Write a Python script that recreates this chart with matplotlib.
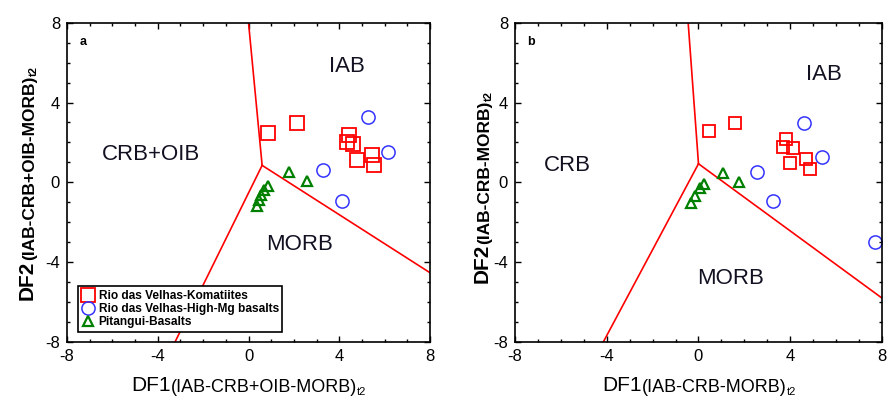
import numpy as np
import matplotlib
matplotlib.use("Agg")
import matplotlib.pyplot as plt
from matplotlib.ticker import MultipleLocator

plt.rcParams['font.family'] = ['Liberation Sans', 'DejaVu Sans']
plt.rcParams['axes.unicode_minus'] = False

# ---- data, panel a (DF1/DF2 IAB-CRB+OIB-MORB) ----
kom_a_x = [0.87, 2.12, 4.45, 4.35, 4.62, 4.77, 5.46, 5.53]
kom_a_y = [2.47, 2.97, 2.35, 2.0, 1.9, 1.14, 1.39, 0.85]
hmg_a_x = [5.28, 6.16, 3.3, 4.13]
hmg_a_y = [3.27, 1.5, 0.6, -0.95]
pit_a_x = [1.8, 2.56, 0.87, 0.7, 0.55, 0.45, 0.36]
pit_a_y = [0.5, 0.05, -0.2, -0.4, -0.65, -0.9, -1.2]
bound_a_x = [[0.0, 0.6], [0.6, -3.24], [0.6, 8.0]]
bound_a_y = [[8.0, 0.85], [0.85, -8.0], [0.85, -4.53]]

# ---- data, panel b (DF1/DF2 IAB-CRB-MORB) ----
kom_b_x = [0.46, 1.59, 3.81, 3.7, 4.13, 3.99, 4.69, 4.86]
kom_b_y = [2.56, 2.95, 2.15, 1.78, 1.73, 0.98, 1.18, 0.68]
hmg_b_x = [4.6, 5.4, 2.56, 3.23, 7.69]
hmg_b_y = [2.98, 1.28, 0.52, -0.93, -3.0]
pit_b_x = [1.05, 1.75, 0.24, 0.05, -0.15, -0.34]
pit_b_y = [0.45, 0.02, -0.06, -0.3, -0.68, -1.05]
bound_b_x = [[-0.45, 0.0], [0.0, -4.15], [0.0, 8.0]]
bound_b_y = [[8.0, 0.93], [0.93, -8.0], [0.93, -5.8]]

labels = ['Rio das Velhas-Komatiites', 'Rio das Velhas-High-Mg basalts', 'Pitangui-Basalts']

W, H = 889, 408
fig = plt.figure(figsize=(W / 100, H / 100), dpi=100)
ax1 = fig.add_axes([0.0754, 0.1618, 0.4083, 0.7826])
ax2 = fig.add_axes([0.5793, 0.1618, 0.4128, 0.7826])

red = '#ff0000'
blue = '#3333ff'
green = '#008000'


def setup(ax, letter):
    ax.set_xlim(-8, 8)
    ax.set_ylim(-8, 8)
    ax.xaxis.set_major_locator(MultipleLocator(4))
    ax.yaxis.set_major_locator(MultipleLocator(4))
    ax.xaxis.set_minor_locator(MultipleLocator(1))
    ax.yaxis.set_minor_locator(MultipleLocator(1))
    ax.tick_params(which='both', direction='in', top=True, right=True, labelsize=12, width=1)
    ax.tick_params(which='major', length=4, pad=5)
    ax.tick_params(which='minor', length=2.5)
    for s in ax.spines.values():
        s.set_linewidth(1.2)
    ax.text(-7.3, 7.05, letter, fontsize=9, fontweight='bold', ha='center', va='center')


setup(ax1, 'a')
setup(ax2, 'b')

for bx, by in zip(bound_a_x, bound_a_y):
    ax1.plot(bx, by, color=red, lw=1.2)
for bx, by in zip(bound_b_x, bound_b_y):
    ax2.plot(bx, by, color=red, lw=1.2)

ax1.plot(kom_a_x, kom_a_y, 's', ms=9.5, mfc='none', mec=red, mew=1.3, label=labels[0])
ax1.plot(hmg_a_x, hmg_a_y, 'o', ms=9.5, mfc='none', mec=blue, mew=1.1, label=labels[1])
ax1.plot(pit_a_x, pit_a_y, '^', ms=7, mfc='none', mec=green, mew=1.6, label=labels[2])

ax2.plot(kom_b_x, kom_b_y, 's', ms=9, mfc='none', mec=red, mew=1.3)
ax2.plot(hmg_b_x, hmg_b_y, 'o', ms=9.5, mfc='none', mec=blue, mew=1.1)
ax2.plot(pit_b_x, pit_b_y, '^', ms=7, mfc='none', mec=green, mew=1.6)

fkw = dict(fontsize=16, ha='center', va='center', color='#111122')
ax1.text(4.33, 5.8, 'IAB', **fkw)
ax1.text(-4.3, 1.4, 'CRB+OIB', **fkw)
ax1.text(2.23, -3.1, 'MORB', **fkw)
ax2.text(5.47, 5.39, 'IAB', **fkw)
ax2.text(-5.7, 0.86, 'CRB', **fkw)
ax2.text(1.41, -4.84, 'MORB', **fkw)

leg = ax1.legend(loc='lower left', bbox_to_anchor=(0.031, 0.032), fancybox=False,
                 framealpha=1, edgecolor='black', handlelength=1.0, handletextpad=0.4,
                 labelspacing=0.1, borderpad=0.3, borderaxespad=0,
                 prop={'weight': 'bold', 'size': 8.6})
leg.get_frame().set_linewidth(1.2)


# axis titles with subscripts: pieces laid end to end (pixel coords, origin bottom-left)
renderer = fig.canvas.get_renderer()


def label_parts(parts, center, base, vertical=False, weight='normal'):
    widths = []
    for s, size, drop in parts:
        t = fig.text(0, 0, s, fontsize=size, fontweight=weight)
        widths.append(t.get_window_extent(renderer).width)
        t.remove()
    pos = center - sum(widths) / 2
    for (s, size, drop), w in zip(parts, widths):
        if vertical:
            fig.text((base + drop) / W, pos / H, s, fontsize=size, fontweight=weight,
                     rotation=90, rotation_mode='anchor', ha='left', va='baseline')
        else:
            fig.text(pos / W, (base - drop) / H, s, fontsize=size, fontweight=weight,
                     ha='left', va='baseline')
        pos += w


label_parts([('DF1', 15, 0), ('(IAB-CRB+OIB-MORB)', 13, 1), ('t2', 8, 4)], 249, 17)
label_parts([('DF1', 15, 0), ('(IAB-CRB-MORB)', 13, 1), ('t2', 8, 4)], 699, 17)
label_parts([('DF2', 15, 0), ('(IAB-CRB+OIB-MORB)', 12.5, 1), ('t2', 8, 4)], H - 183, 33,
            vertical=True, weight='bold')
label_parts([('DF2', 15, 0), ('(IAB-CRB-MORB)', 12.5, 1), ('t2', 8, 4)], H - 187, 488,
            vertical=True, weight='bold')

fig.savefig('out.png', dpi=100)
